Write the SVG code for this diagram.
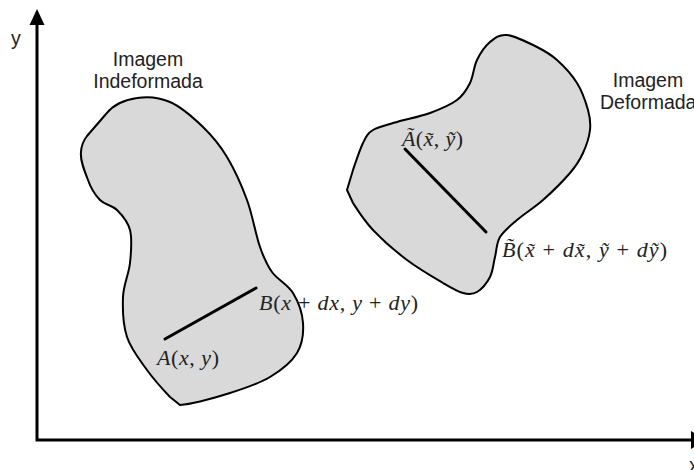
<svg xmlns="http://www.w3.org/2000/svg" width="694" height="470" viewBox="0 0 694 470">
<style>
.shape{fill:#d9d9d9;stroke:#000;stroke-width:2;stroke-linejoin:round}
.seg{stroke:#000;stroke-width:3;stroke-linecap:round;fill:none}
.axis{stroke:#000;stroke-width:3;fill:none}
.lbl{font-family:"Liberation Sans",Arial,sans-serif;font-size:19.5px;fill:#222}
.m{font-family:"Liberation Serif","DejaVu Serif",serif;font-size:22px;fill:#222}
.i{font-style:italic}
</style>
<rect width="694" height="470" fill="#fff"/>
<g id="axes">
<path class="axis" d="M37,441 V22 M35.5,440 H694"/>
<polygon points="37,9 29.5,25 44.5,25" fill="#000"/>
<polygon points="691,431 707,440 691,449" fill="#000"/>
<text class="lbl" x="11" y="45" font-size="18">y</text>
<text class="lbl" x="689" y="472" font-size="18">x</text>
</g>
<g id="undeformed">
<path class="shape" d="M137,98 C147.5,96.2 159,97.2 170,102 C181,106.8 193.5,117.8 203,127 C212.5,136.2 219.7,144.8 227,157 C234.3,169.2 241.5,185 247,200 C252.5,215 255.8,235 260,247 C264.2,259 266.5,264.3 272,272 C277.5,279.7 287.8,284.5 293,293 C298.2,301.5 302.3,313 303,323 C303.7,333 302.5,344 297,353 C291.5,362 281.2,370.3 270,377 C258.8,383.7 245,388.3 230,393 C215,397.7 190,404.3 180,405 L170,397 C164.5,391.2 154.2,380 147,370 C139.8,360 131,349.2 127,337 C123,324.8 122.5,309.3 123,297 C123.5,284.7 128.8,274.2 130,263 C131.2,251.8 132.2,238.8 130,230 C127.8,221.2 122,215 117,210 C112,205 104.8,205 100,200 C95.2,195 91,188.8 88,180 C84,170 80,160 81,152 Q81.5,143 87,136 L106,114 Q116,101 137,98 Z"/>
<line class="seg" x1="165" y1="339" x2="256" y2="288"/>
<text class="lbl" x="148" y="66" text-anchor="middle">Imagem</text>
<text class="lbl" x="148" y="88" text-anchor="middle">Indeformada</text>
<text class="m" x="157" y="365" textLength="62" lengthAdjust="spacing"><tspan class="i">A</tspan>(<tspan class="i">x</tspan>, <tspan class="i">y</tspan>)</text>
<text class="m" x="259" y="310" textLength="159" lengthAdjust="spacing"><tspan class="i">B</tspan>(<tspan class="i">x</tspan> + <tspan class="i">dx</tspan>, <tspan class="i">y</tspan> + <tspan class="i">dy</tspan>)</text>
</g>
<g id="deformed">
<path class="shape" d="M507,35 C514.8,35.8 528.7,42.8 537,47 C545.3,51.2 550.3,54 557,60 C563.7,66 571.8,74.7 577,83 C582.2,91.3 585.8,102.2 588,110 C590.2,117.8 590.8,122.8 590,130 C589.2,137.2 586.3,145.8 583,153 C579.7,160.2 576.7,165.2 570,173 C563.3,180.8 551.8,192.2 543,200 C534.2,207.8 524.2,213.8 517,220 C509.8,226.2 503.7,230.8 500,237 C496.3,243.2 496.7,250.3 495,257 C493.3,263.7 493,271.2 490,277 C487,282.8 481.5,289.3 477,292 C472.5,294.7 468.7,294.5 463,293 C457.3,291.5 452.3,288.5 443,283 C433.7,277.5 418.7,268.8 407,260 C395.3,251.2 382,239.5 373,230 C364,220.5 357.3,209.7 353,203 L347,190 L353,170 C355.7,162.2 359.7,149.7 363,143 C366.3,136.3 367.3,133.5 373,130 C378.7,126.5 387.5,124.8 397,122 C406.5,119.2 420,116.7 430,113 C440,109.3 450.3,105 457,100 C463.7,95 466.7,89.7 470,83 C473.3,76.3 473.7,66.8 477,60 C480.3,53.2 485,46.2 490,42 C495,37.8 499.2,34.2 507,35 Z"/>
<line class="seg" x1="405" y1="149" x2="486" y2="232"/>
<text class="lbl" x="648" y="87" text-anchor="middle">Imagem</text>
<text class="lbl" x="600" y="109">Deformada</text>
<text class="m" x="402" y="146" textLength="61" lengthAdjust="spacing"><tspan class="i">Ã</tspan>(<tspan class="i">x̃</tspan>, <tspan class="i">ỹ</tspan>)</text>
<text class="m" x="502" y="257" textLength="165" lengthAdjust="spacing"><tspan class="i">B̃</tspan>(<tspan class="i">x̃</tspan> + <tspan class="i">dx̃</tspan>, <tspan class="i">ỹ</tspan> + <tspan class="i">dỹ</tspan>)</text>
</g>
</svg>
